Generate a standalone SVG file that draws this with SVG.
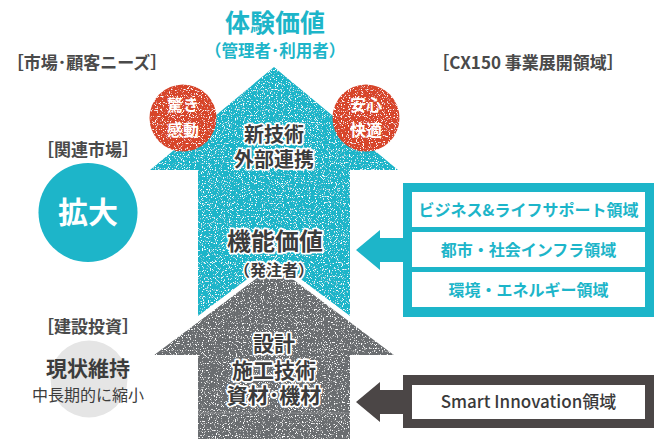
<svg xmlns="http://www.w3.org/2000/svg" width="656" height="439" viewBox="0 0 656 439">
<style>
text{font-family:"Noto Sans CJK JP","Noto Sans",sans-serif;text-anchor:middle}
.lbl{fill:#4a4a4a;font-weight:700;font-size:17px}
.halo{fill:#3c3c3c;font-weight:700;stroke:#fff;stroke-width:3.5px;paint-order:stroke;stroke-linejoin:round}
.wt{fill:#fff;font-weight:700}
.tt{fill:#1db5c9;font-weight:700;font-size:16px}
.teal{fill:#1db5c9}
.red{fill:#d7452a}
.gray{fill:#6b6d6f}
.dark{fill:#4b4646}
.box{fill:#fff}
</style>
<defs>
<filter id="speck" x="0" y="0" width="100%" height="100%">
<feTurbulence type="fractalNoise" baseFrequency="0.85" numOctaves="1" seed="7" result="n"/>
<feColorMatrix in="n" type="matrix" values="0 0 0 0 1  0 0 0 0 1  0 0 0 0 1  9 0 0 0 -5.2" result="dots"/>
<feComposite in="dots" in2="SourceGraphic" operator="in" result="d2"/>
<feMerge><feMergeNode in="SourceGraphic"/><feMergeNode in="d2"/></feMerge>
</filter>
</defs>

<g id="title">
<text x="275" y="32" fill="#1db5c9" font-weight="700" font-size="25">体験価値</text>
<text x="275" y="57" fill="#1db5c9" font-weight="700" font-size="16.5">（管理者･利用者）</text>
</g>

<g id="header-left"><text class="lbl" x="87" y="69" font-size="18">［市場･顧客ニーズ］</text></g>
<g id="header-right"><text class="lbl" x="528" y="69" font-size="18">［CX150 事業展開領域］</text></g>

<g id="arrow-teal">
<polygon class="teal" filter="url(#speck)" points="274,67 398,170 350,170 350,360 198,360 198,170 150,170"/>
<text class="halo" x="274" y="142" font-size="20">新技術</text>
<text class="halo" x="274" y="167" font-size="20">外部連携</text>
</g>

<g id="circle-odoroki">
<circle class="red" filter="url(#speck)" cx="183" cy="118" r="33.5"/>
<text class="wt" x="183" y="111" font-size="16">驚き</text>
<text class="wt" x="183" y="136" font-size="16">感動</text>
</g>
<g id="circle-anshin">
<circle class="red" filter="url(#speck)" cx="366" cy="118" r="33.5"/>
<text class="wt" x="366" y="111" font-size="16">安心</text>
<text class="wt" x="366" y="136" font-size="16">快適</text>
</g>

<g id="arrow-gray">
<polygon class="gray" filter="url(#speck)" points="274,262 398,355 350,355 350,439 198,439 198,355 150,355"/>
<polyline points="150,355 274,262 398,355" fill="none" stroke="#fff" stroke-width="5" stroke-linejoin="miter"/>
<line x1="198" y1="413" x2="350" y2="413" stroke="#8a8c8e" stroke-width="1"/>
<text class="halo" x="274" y="351" font-size="21">設計</text>
<text class="halo" x="274" y="378" font-size="21">施工技術</text>
<text class="halo" x="274" y="403" font-size="21">資材･機材</text>
</g>

<g id="kinou">
<text class="halo" x="275" y="250" font-size="24">機能価値</text>
<text class="halo" x="274" y="276" font-size="16">（発注者）</text>
</g>

<g id="kanren">
<text class="lbl" x="88" y="156" font-size="17">［関連市場］</text>
<circle class="teal" cx="88" cy="212.5" r="49.5"/>
<text class="wt" x="88" y="223" font-size="30">拡大</text>
</g>

<g id="kensetsu">
<text class="lbl" x="88" y="333" font-size="17">［建設投資］</text>
<circle cx="89" cy="379" r="38.5" fill="#e5e5e5"/>
<text x="88" y="376" font-size="21" font-weight="700" fill="#3c3c3c">現状維持</text>
<text x="88" y="401" font-size="16" fill="#3c3c3c">中長期的に縮小</text>
</g>

<g id="cx150-box">
<rect class="teal" x="403" y="183" width="251" height="134"/>
<rect class="box" x="412" y="192" width="233" height="35"/>
<rect class="box" x="412" y="232" width="233" height="35"/>
<rect class="box" x="412" y="272" width="233" height="35"/>
<text class="tt" x="528.5" y="215.5">ビジネス&amp;ライフサポート領域</text>
<text class="tt" x="528.5" y="255.5">都市・社会インフラ領域</text>
<text class="tt" x="528.5" y="295.5">環境・エネルギー領域</text>
</g>

<g id="smart-box">
<rect class="dark" x="403" y="375" width="251" height="53"/>
<rect class="box" x="412" y="385" width="233" height="34"/>
<text x="528.5" y="408" font-size="17" font-weight="500" fill="#3a3a3a">Smart Innovation領域</text>
</g>

<g id="connectors">
<polygon class="teal" points="356,250 380,230 380,238 403,238 403,262 380,262 380,270"/>
<polygon class="dark" points="356,402 380,382 380,390 403,390 403,414 380,414 380,422"/>
</g>
</svg>
